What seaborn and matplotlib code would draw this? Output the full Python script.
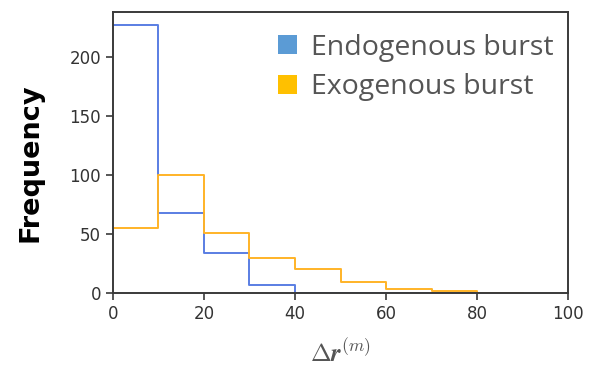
import matplotlib
matplotlib.use("Agg")
import matplotlib.pyplot as plt
from matplotlib.patches import Patch
import seaborn as sns
import pandas as pd
import numpy as np

bin_edges = [0, 10, 20, 30, 40, 50, 60, 70, 80, 90]
endo_counts = [227, 68, 34, 7, 0, 0, 0, 0, 0]
exo_counts = [55, 100, 51, 30, 20, 9, 3, 2, 0]
series_names = ["Endogenous burst", "Exogenous burst"]
x_ticks = [0, 20, 40, 60, 80, 100]
y_ticks = [0, 50, 100, 150, 200]

sns.set_style("ticks")
plt.rcParams["font.family"] = ["DejaVu Sans"]
plt.rcParams["mathtext.fontset"] = "cm"

centers = [(a + b) / 2 for a, b in zip(bin_edges[:-1], bin_edges[1:])]
df_endo = pd.DataFrame({"x": centers, "w": endo_counts})
df_exo = pd.DataFrame({"x": centers, "w": exo_counts})

line_blue = "#5a7ee3"
line_orange = "#ffb327"
patch_blue = "#5b9bd5"
patch_orange = "#ffc000"
dark = "#3a3a3a"

fig = plt.figure(figsize=(6.0, 3.69), dpi=100)
ax = fig.add_axes([0.188, 0.206, 0.759, 0.761])

sns.histplot(data=df_endo, x="x", weights="w", bins=bin_edges, element="step",
             fill=False, color=line_blue, linewidth=1.4, ax=ax)
sns.histplot(data=df_exo, x="x", weights="w", bins=bin_edges, element="step",
             fill=False, color=line_orange, linewidth=1.4, ax=ax)

ax.set_xlim(0, 100)
ax.set_ylim(0, 238)
ax.set_xticks(x_ticks)
ax.set_yticks(y_ticks)
for s in ax.spines.values():
    s.set_color(dark)
    s.set_linewidth(1.4)
ax.tick_params(axis="both", colors=dark, labelcolor="#333333", labelsize=12,
               length=5, width=1.2)

ax.set_ylabel("Frequency", fontsize=19.5, fontweight="bold", color="black")
ax.yaxis.set_label_coords(-0.152, 0.463)
ax.set_xlabel(r"$\Delta \mathbfit{r}^{(m)}$", fontsize=18, color="#555555", labelpad=11)

handles = [Patch(facecolor=patch_blue, edgecolor="none"),
           Patch(facecolor=patch_orange, edgecolor="none")]
leg = ax.legend(handles, series_names, loc="upper right", frameon=False,
                bbox_to_anchor=(1.0154, 1.0),
                prop={"family": "Open Sans", "size": 20.5}, handlelength=0.65,
                handleheight=0.65, handletextpad=0.5, labelspacing=0.42,
                borderaxespad=0.3, borderpad=0.45)
for t in leg.get_texts():
    t.set_color("#555555")

fig.savefig("out.png", dpi=100)
